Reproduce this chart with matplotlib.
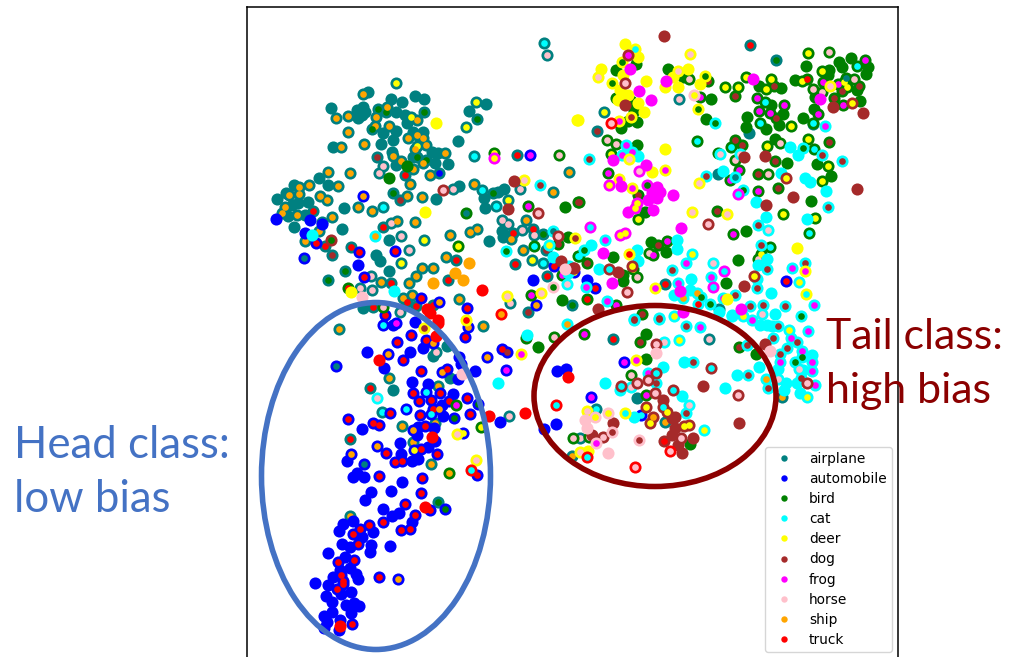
import matplotlib
matplotlib.use("Agg")
import matplotlib.pyplot as plt
from matplotlib.lines import Line2D
from matplotlib.patches import Ellipse

W, H = 1010, 657

names = ["airplane", "automobile", "bird", "cat", "deer", "dog", "frog", "horse", "ship", "truck"]
cols = ["teal", "blue", "green", "cyan", "yellow", "brown", "magenta", "pink", "orange", "red"]
codes = "ambcdgfhst"

# x, y, third item = inner colour class ('' = solid dot)
airplane = [(544,43,'c'),(547,55,'h'),(396,83,'d'),(363,94,'s'),(368,92,''),(331,108,''),(336,118,'s'),(348,116,'s'),
 (357,110,''),(363,107,''),(358,118,''),(365,112,''),(362,115,''),(378,109,'b'),(386,112,'b'),(376,117,'s'),(387,107,'s'),
 (391,99,''),(402,102,''),(415,96,''),(424,99,''),(396,112,''),(405,115,''),(411,117,'d'),(417,120,'s'),(424,112,'b'),
 (407,123,''),(476,102,'d'),(486,104,''),(469,111,''),(477,119,'b'),(466,127,'d'),(458,141,''),(348,132,'s'),(375,126,'s'),
 (372,129,'b'),(389,126,'s'),(383,133,''),(396,131,''),(393,140,''),(408,138,'s'),(417,135,'s'),(423,138,'s'),(413,132,''),
 (423,132,''),(333,147,''),(341,147,'s'),(364,144,'s'),(381,144,''),(426,145,'s'),(417,146,'d'),(415,149,'s'),(392,152,''),
 (393,156,'s'),(377,157,'g'),(417,157,'b'),(413,157,''),(432,152,''),(438,153,''),(445,153,'s'),(426,160,'b'),(423,163,'s'),
 (401,161,'s'),(435,163,''),(448,164,''),(396,165,''),(383,166,'h'),(379,173,'h'),(413,169,'s'),(405,175,'t'),(430,175,'s'),
 (439,173,'m'),(410,184,'s'),(328,172,'s'),(350,173,'s'),(319,178,''),(309,185,'s'),(328,185,''),(338,186,'s'),(294,185,''),
 (299,187,'s'),(299,194,'s'),(289,195,'s'),(286,193,''),(277,199,''),(320,196,'s'),(327,200,'s'),(285,207,'s'),(282,213,'s'),
 (292,205,''),(298,203,''),(308,202,''),(288,216,''),(297,215,'s'),(305,215,''),(313,211,'t'),(332,217,'s'),(344,208,''),
 (358,207,'s'),(372,211,'s'),(383,207,'c'),(393,193,'b'),(407,196,'s'),(400,200,'g'),(422,197,'s'),(436,199,''),(459,186,''),
 (453,189,'h'),(474,184,'s'),(482,190,'c'),(493,193,'b'),(498,192,''),(504,189,''),(484,198,''),(485,208,''),(496,206,'c'),
 (508,200,'d'),(520,189,'h'),(553,192,'s'),(569,172,'s'),(517,155,'t'),(474,156,'c'),(322,222,'s'),(294,227,''),(342,229,''),
 (319,231,'s'),(305,241,'s'),(325,246,'t'),(332,255,'g'),(351,247,'t'),(376,255,''),(380,261,''),(389,240,''),(391,223,'h'),
 (397,221,'s'),(383,227,'t'),(401,236,'h'),(415,222,'s'),(450,235,'s'),(424,240,'d'),(409,250,'h'),(401,263,'d'),(470,232,'s'),
 (477,229,'s'),(489,241,''),(446,257,'s'),(456,260,'t'),(433,268,'s'),(422,268,'s'),(416,276,'s'),(409,283,'s'),(389,271,''),
 (345,271,'b'),(328,280,'b'),(371,276,'h'),(381,282,'s'),(391,283,'t'),(360,288,'h'),(372,290,'h'),(448,280,'t'),(403,298,'s'),
 (412,295,'s'),(407,302,'t'),(416,306,'t'),(459,299,'s'),(363,308,''),(373,307,'t'),(400,312,'h'),(433,305,'t'),(502,220,'h'),
 (508,224,'h'),(526,220,'s'),(522,230,'h'),(533,229,'t'),(502,231,''),(503,237,''),(513,233,'t'),(511,239,'s'),(534,235,'h'),
 (543,234,'b'),(523,250,'s'),(546,250,'g'),(515,264,'t'),(532,260,'d'),(543,263,'c'),(547,276,'t'),(510,303,'h'),(528,312,'g'),
 (572,305,'b'),(750,45,'t'),(776,60,'b'),(679,99,'h'),(604,112,'d'),(597,131,'g'),(749,133,''),(718,174,''),(813,124,''),
 (719,309,''),(665,284,'t'),(339,329,'s'),(370,388,'t'),(393,390,''),(389,378,'s'),(382,412,'c'),(350,439,'t'),(402,426,'s'),
 (438,386,'s'),(450,378,''),(433,356,''),(436,352,'h'),(435,423,'s'),(413,442,'s'),(431,464,'s'),(350,516,'s'),(438,502,'b'),
 (509,416,'h'),(483,326,'s'),(447,346,''),(613,339,'t'),(709,339,'h'),(637,398,''),(596,409,'c'),(665,422,'s'),(580,438,'h'),
 (572,456,'s'),(782,397,'s')]

automobile = [(276,219,''),(310,220,''),(305,233,''),(322,224,''),(316,243,'t'),(304,258,'a'),(359,252,'t'),(358,265,''),
 (364,277,'t'),(395,251,'t'),(363,196,'s'),(530,155,'f'),(533,280,''),(467,308,'t'),(421,298,'t'),(439,302,'s'),(536,305,'s'),
 (554,266,'t'),(385,315,'t'),(587,280,''),(595,288,'t'),(574,272,'d'),(786,281,'t'),(383,325,'c'),(393,325,''),(396,323,'f'),
 (415,322,''),(411,335,'t'),(397,342,'t'),(388,354,'s'),(367,352,''),(403,360,'t'),(410,352,''),(423,348,''),(426,340,'t'),
 (433,343,'s'),(384,368,''),(336,366,'a'),(421,371,'t'),(442,372,'s'),(447,369,'t'),(459,357,''),(461,364,''),(465,337,'t'),
 (468,327,'s'),(458,379,''),(475,371,''),(487,357,'s'),(502,349,'t'),(507,352,'g'),(506,370,'f'),(412,382,''),(428,384,''),
 (413,393,'t'),(426,392,'c'),(419,401,'t'),(431,400,'t'),(440,393,'t'),(453,394,''),(449,401,'t'),(442,405,''),(467,398,'t'),
 (478,404,'b'),(406,409,'c'),(390,413,'t'),(420,415,'t'),(433,409,'t'),(439,409,'s'),(431,414,'c'),(443,416,''),(454,418,'b'),
 (470,414,'t'),(500,422,''),(348,419,'t'),(362,429,''),(373,423,'t'),(379,425,'t'),(425,426,'t'),(418,427,''),(434,428,''),
 (413,430,'s'),(417,435,''),(463,433,'d'),(435,441,''),(400,443,''),(377,446,'s'),(386,453,'t'),(421,449,'t'),(428,447,''),
 (437,454,'t'),(351,454,'s'),(347,461,''),(364,464,'a'),(401,454,''),(402,461,'t'),(395,462,'t'),(412,461,''),(418,459,''),
 (414,450,'d'),(353,477,''),(357,473,''),(364,477,''),(379,476,'t'),(402,482,''),(422,478,'t'),(477,475,'t'),(371,492,''),
 (391,491,''),(421,493,'t'),(365,500,''),(383,509,''),(405,504,'t'),(399,513,''),(392,516,''),(415,515,'t'),(412,522,''),
 (445,509,'b'),(430,510,'t'),(383,522,'t'),(401,530,'t'),(410,529,'t'),(369,525,'t'),(373,532,''),(353,521,''),(343,524,''),
 (339,531,''),(360,529,'t'),(353,534,'t'),(362,537,''),(342,544,''),(358,544,'t'),(371,545,''),(350,547,''),(390,546,''),
 (370,552,''),(328,553,''),(345,557,''),(354,560,'t'),(338,562,'t'),(340,570,''),(350,568,''),(356,574,''),(341,575,'t'),
 (358,579,''),(333,577,''),(343,581,'t'),(343,584,'t'),(315,583,''),(328,585,''),(337,589,'t'),(341,594,''),(351,592,''),
 (379,577,'t'),(398,579,'s'),(326,596,''),(332,602,''),(346,605,''),(354,603,''),(359,606,''),(332,612,''),(351,613,''),
 (324,616,''),(327,622,''),(340,620,''),(352,624,'t'),(324,628,''),(339,630,''),(557,371,''),(566,369,''),(556,424,''),
 (544,429,''),(591,397,'f'),(624,362,'f'),(641,415,'c')]

bird = [(494,153,'d'),(559,155,'h'),(407,166,''),(389,178,''),(466,213,'a'),(565,207,''),(578,202,'g'),(528,206,'f'),
 (534,246,'c'),(458,246,'d'),(568,237,''),(558,244,'g'),(348,288,'t'),(383,307,'h'),(531,295,'f'),(562,300,''),(578,256,'c'),
 (562,275,'f'),(616,70,''),(636,64,''),(668,69,''),(683,77,''),(689,79,'h'),(708,81,'g'),(616,98,''),(631,101,''),(634,111,''),
 (637,122,''),(628,121,''),(621,128,''),(700,97,'f'),(711,99,''),(706,119,''),(697,141,'c'),(637,145,''),(607,140,'h'),
 (616,144,'h'),(611,154,'d'),(608,173,'f'),(638,195,'g'),(638,219,'d'),(645,212,''),(579,202,'g'),(717,211,'g'),(733,234,'f'),
 (746,231,''),(651,242,''),(658,245,'g'),(667,241,'f'),(666,252,''),(649,253,'h'),(653,255,'f'),(613,257,''),(587,263,'g'),
 (579,256,'c'),(633,269,'d'),(637,277,'h'),(623,275,''),(623,281,''),(587,299,'t'),(616,305,'f'),(642,314,'g'),(726,283,''),
 (738,260,''),(758,259,'h'),(761,254,'d'),(770,247,'c'),(783,214,'d'),(815,218,'d'),(809,233,'c'),(811,201,''),(758,191,'f'),
 (778,188,'g'),(758,174,'g'),(768,174,'h'),(775,161,'g'),(787,163,''),(817,164,''),(828,166,'d'),(831,176,''),(822,181,'d'),
 (718,153,'h'),(735,140,'g'),(742,145,'g'),(731,147,'c'),(735,160,'h'),(739,170,'f'),(730,180,'f'),(767,146,'d'),(775,139,''),
 (780,143,'h'),(808,139,'d'),(814,149,'c'),(829,142,'g'),(791,126,'d'),(803,118,''),(813,123,'c'),(814,109,''),(818,114,'f'),
 (779,125,''),(766,129,''),(760,123,'c'),(747,117,''),(746,127,''),(759,111,'f'),(771,105,''),(770,113,'f'),(776,118,'g'),
 (784,105,'f'),(783,114,''),(765,102,'c'),(757,98,'f'),(735,96,'g'),(725,87,'d'),(738,87,'d'),(746,77,'d'),(759,86,''),
 (766,89,'d'),(771,79,'d'),(774,86,'g'),(781,88,''),(795,80,''),(802,81,'d'),(807,79,'t'),(808,53,'d'),(806,66,''),(829,52,'h'),
 (822,71,'d'),(829,70,''),(828,75,''),(823,82,'f'),(813,89,'h'),(815,97,''),(822,92,'h'),(838,84,'f'),(844,82,'d'),(847,87,'d'),
 (842,91,'g'),(834,98,'g'),(839,62,''),(842,67,''),(851,58,''),(865,60,'f'),(868,67,''),(866,74,''),(857,66,'c'),(854,79,'h'),
 (859,86,'g'),(857,90,''),(860,101,''),(846,78,'a'),(843,105,'f'),(456,405,'f'),(449,473,'s'),(481,427,'d'),(526,338,'t'),
 (538,347,''),(554,337,'h'),(584,334,'f'),(640,342,'g'),(646,334,''),(646,359,''),(631,375,'h'),(646,395,'f'),(690,444,''),
 (573,438,'h'),(589,437,'h'),(739,347,'g'),(756,354,'')]

cat = [(375,236,'s'),(312,235,''),(540,185,'g'),(506,251,'b'),(553,231,'a'),(549,245,'d'),(553,257,''),(394,291,''),(569,266,''),
 (567,284,'h'),(568,273,''),(790,147,''),(798,155,''),(803,148,'b'),(822,155,'g'),(842,161,'g'),(825,126,'f'),(715,123,'b'),
 (626,145,'f'),(622,155,'f'),(632,152,'f'),(638,156,''),(589,159,'g'),(720,154,'h'),(740,154,'h'),(735,177,'a'),(723,171,''),
 (706,176,'g'),(743,190,'b'),(781,173,''),(805,178,''),(810,182,''),(826,191,''),(828,207,'g'),(756,202,''),(766,217,''),
 (758,225,'g'),(768,230,'h'),(807,219,''),(761,245,'g'),(767,259,''),(758,265,''),(767,269,'g'),(792,268,'f'),(805,263,'g'),
 (799,282,'d'),(757,279,''),(757,288,'g'),(771,293,''),(735,295,'g'),(723,298,'f'),(763,305,'g'),(785,306,'g'),(814,305,'f'),
 (750,306,'g'),(762,314,'h'),(775,314,''),(801,316,'b'),(732,315,''),(743,316,'d'),(713,263,'h'),(711,277,'f'),(692,254,'d'),
 (686,263,'f'),(672,270,'g'),(677,249,''),(677,240,''),(637,250,''),(638,261,''),(599,269,''),(605,240,'f'),(591,245,''),
 (584,250,'b'),(586,287,'f'),(607,301,'f'),(691,279,''),(678,283,'f'),(674,295,''),(690,290,''),(683,298,'s'),(697,293,'s'),
 (701,297,'b'),(698,304,'t'),(710,304,'b'),(719,312,''),(659,318,'g'),(674,316,'d'),(634,319,'g'),(377,398,'h'),(498,383,''),
 (527,335,''),(567,324,'s'),(634,320,'g'),(659,319,'g'),(686,326,'g'),(700,327,'f'),(664,342,'h'),(679,340,'d'),(605,383,''),
 (663,367,''),(684,362,''),(693,362,'g'),(648,373,'f'),(631,387,'h'),(620,390,''),(656,383,'g'),(682,396,''),(689,405,'h'),
 (686,413,'g'),(634,417,''),(704,430,'d'),(725,388,''),(737,375,''),(748,375,'g'),(759,367,''),(766,379,'s'),(768,388,'g'),
 (778,379,'h'),(732,316,''),(760,325,''),(767,325,''),(772,326,''),(778,326,'g'),(752,320,'f'),(789,330,'d'),(808,331,'f'),
 (791,338,'f'),(797,342,'g'),(787,348,'g'),(780,354,'g'),(802,351,'f'),(802,357,'b'),(812,355,''),(812,362,'f'),(795,362,'b'),
 (780,362,'f'),(778,369,''),(799,369,'h'),(812,371,'f'),(803,370,''),(801,378,'g'),(786,383,''),(797,383,''),(815,385,'f'),
 (784,390,''),(800,393,''),(807,397,'d'),(747,345,'g'),(773,338,'g')]

deer = [(436,123,''),(577,120,''),(425,212,''),(524,180,'h'),(575,238,'g'),(351,292,''),(507,296,'h'),(541,293,'h'),(466,320,'t'),
 (625,44,''),(635,49,'c'),(638,57,''),(601,69,''),(598,77,'h'),(622,62,'b'),(623,75,''),(612,83,'b'),(646,81,''),(620,90,''),
 (628,95,''),(618,100,''),(638,103,''),(644,112,''),(631,117,'g'),(619,121,'f'),(578,120,''),(665,87,''),(673,77,''),(678,71,'h'),
 (688,69,''),(690,54,'h'),(678,87,''),(700,84,''),(705,76,'b'),(698,109,'b'),(665,149,''),(629,159,'h'),(652,172,''),(665,170,'f'),
 (619,179,'f'),(632,188,'f'),(699,183,'h'),(692,212,'h'),(727,214,'h'),(727,299,''),(797,248,''),(629,254,'t'),(805,271,'f'),
 (655,288,'f'),(806,294,'c'),(830,86,'h'),(424,328,'g'),(521,354,'f'),(457,434,'h'),(476,460,'h'),(636,360,'f'),(587,411,'h'),
 (625,413,'c'),(580,452,'h'),(588,451,'')]

dog = [(514,181,''),(443,190,'h'),(508,209,''),(538,213,'h'),(331,240,'b'),(558,236,'h'),(561,261,''),(573,268,''),(664,36,''),
 (628,55,'f'),(625,83,'h'),(625,105,'g'),(863,113,''),(833,107,''),(852,103,'d'),(857,189,''),(765,156,''),(744,157,''),(793,197,''),
 (766,205,''),(708,224,'h'),(786,178,'d'),(744,286,''),(754,276,'d'),(609,269,'c'),(618,272,''),(627,292,'h'),(632,266,'d'),
 (598,309,''),(574,268,''),(656,344,'h'),(765,344,''),(703,386,''),(739,423,''),(613,423,''),(603,437,'h'),(621,386,'c'),(637,383,'h'),
 (648,380,'h'),(655,393,'h'),(663,400,''),(663,407,'c'),(667,412,'d'),(675,417,''),(672,418,''),(646,407,'d'),(653,417,'s'),
 (650,423,'d'),(673,390,'c'),(738,395,'h'),(807,383,'h'),(689,425,'d'),(684,426,'d'),(675,428,''),(672,435,''),(681,438,'h'),
 (693,438,''),(664,441,'t'),(678,445,''),(682,453,''),(592,435,''),(656,373,'c'),(711,368,'c')]

frog = [(494,158,'d'),(639,91,''),(651,100,''),(666,81,''),(753,79,''),(630,69,''),(613,160,''),(646,165,''),(639,171,'h'),
 (609,185,'d'),(621,186,''),(673,195,''),(657,187,''),(660,192,''),(652,193,''),(657,198,''),(648,200,''),(653,210,''),(647,185,'b'),
 (628,212,''),(637,203,'d'),(635,208,'d'),(681,228,''),(590,227,'c'),(620,235,'d'),(625,233,'d'),(603,253,''),(612,283,''),
 (713,287,'c'),(724,271,'c'),(738,194,'c'),(820,99,''),(680,291,''),(683,312,''),(741,309,'')]

horse = [(362,297,''),(553,287,'b'),(565,269,''),(694,95,'d'),(462,374,''),(770,351,''),(612,432,'g'),(595,417,'d'),(608,413,'d'),
 (656,353,''),(585,420,''),(587,428,''),(608,453,''),(639,440,'g'),(596,443,'f')]

ship = [(469,263,''),(455,273,''),(463,280,''),(433,283,'')]

truck = [(482,290,''),(427,309,''),(430,313,''),(501,314,'s'),(438,320,''),(611,123,'h'),(379,360,''),(438,323,''),(436,336,''),
 (432,437,''),(425,507,''),(340,626,''),(489,416,''),(525,413,''),(471,470,'c'),(568,377,''),(556,405,'c'),(587,457,'c'),
 (670,451,'h'),(635,467,'h')]

groups = [airplane, automobile, bird, cat, deer, dog, frog, horse, ship, truck]

fig = plt.figure(figsize=(W / 100, H / 100), dpi=100)
ax = fig.add_axes([246.5 / W, (H - 672) / H, (898 - 246.5) / W, (672 - 7) / H])
ax.set_xlim(246.5, 898)
ax.set_ylim(672, 7)
ax.set_xticks([])
ax.set_yticks([])
for sp in ax.spines.values():
    sp.set_linewidth(1.1)

for i in range(10):
    pts = groups[i]
    ax.scatter([p[0] for p in pts], [p[1] for p in pts], s=76, color=cols[i], linewidths=0, zorder=2 + i)
    for p in pts:
        if p[2] != '':
            ax.scatter(p[0], p[1], s=23, color=cols[codes.index(p[2])], linewidths=0, zorder=2 + i)

# hand drawn ovals over the plot
ax.add_patch(Ellipse((376, 476), 229, 347, fill=False, edgecolor="#4472c4", lw=4, zorder=20, clip_on=False))
ax.add_patch(Ellipse((655, 396), 242, 181, fill=False, edgecolor="#8b0000", lw=4, zorder=20, clip_on=False))

handles = [Line2D([], [], ls='', marker='o', ms=4.6, mew=0, color=c, label=n) for c, n in zip(cols, names)]
leg = ax.legend(handles=handles, loc="upper left", bbox_to_anchor=(765 / W, 1 - 447 / H),
                bbox_transform=fig.transFigure, fontsize=9.9, labelspacing=0.445, borderpad=0.35,
                handletextpad=0.85, borderaxespad=0, frameon=True)
leg.set_zorder(30)

fs = 31.5
fig.text(14 / W, 1 - 445 / H, "Head class:", color="#4472c4", fontsize=fs, family="Lato", va="center")
fig.text(14 / W, 1 - 500 / H, "low bias", color="#4472c4", fontsize=fs, family="Lato", va="center")
fig.text(826 / W, 1 - 337 / H, "Tail class:", color="#8b0000", fontsize=30.8, family="Lato", va="center", zorder=40)
fig.text(826 / W, 1 - 391 / H, "high bias", color="#8b0000", fontsize=30.8, family="Lato", va="center", zorder=40)

fig.savefig("out.png", dpi=100)
